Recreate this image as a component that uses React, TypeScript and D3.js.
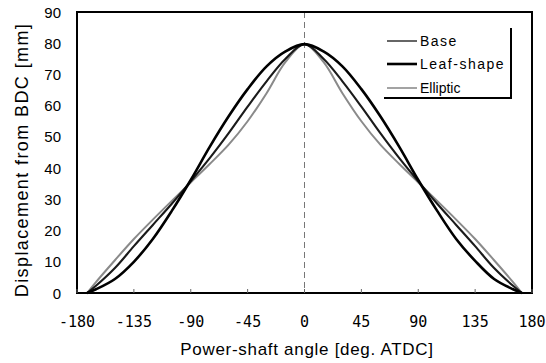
import React from "react";
import * as d3 from "d3";

const angles = [-172, -165, -150, -135, -120, -105, -90, -75, -60, -45, -30, -15, 0, 15, 30, 45, 60, 75, 90, 105, 120, 135, 150, 165, 172];
const leafValues = [0, 1.2, 4.5, 10, 17.3, 26.3, 36.2, 46.8, 56.6, 65.3, 72.6, 77.4, 79.7, 77.4, 72.6, 65.3, 56.6, 46.8, 36.2, 26.3, 17.3, 10.3, 4.5, 1.2, 0];
const baseValues = [0, 2.3, 8, 15, 21.8, 28.6, 35.8, 43.2, 51.2, 59.7, 67.8, 75, 79.7, 75, 67.8, 59.7, 51.2, 43.2, 35.8, 28.6, 21.8, 15, 8, 2.3, 0];
const ellipticValues = [0, 3.5, 10.5, 17.3, 23.5, 29.5, 35.4, 41.3, 47.5, 55, 64, 74, 79.7, 74, 64, 55, 47.5, 41.3, 35.4, 29.5, 23.5, 17.3, 10.5, 3.5, 0];
const xTicks = [-180, -135, -90, -45, 0, 45, 90, 135, 180];
const yTicks = [0, 10, 20, 30, 40, 50, 60, 70, 80, 90];
const seriesNames = ["Base", "Leaf-shape", "Elliptic"];

const W = 546, H = 363;
const L = 77, R = 532, T = 12, B = 293;

export default function App() {
  const x = d3.scaleLinear().domain([-180, 180]).range([L, R]);
  const y = d3.scaleLinear().domain([0, 90]).range([B, T]);
  const line = d3.line<number>()
    .x((_, i) => x(angles[i]))
    .y((d) => y(d))
    .curve(d3.curveCatmullRom.alpha(0.5));
  const series = [
    { name: seriesNames[0], values: baseValues, color: "#1a1a1a", width: 2.1, ls: 1.5 },
    { name: seriesNames[1], values: leafValues, color: "#000", width: 2.6, ls: 1.5 },
    { name: seriesNames[2], values: ellipticValues, color: "#8a8a8a", width: 2, ls: 0 },
  ];
  const legendColors = ["#555", "#000", "#999"];
  const drawOrder = [2, 0, 1];
  const legendY = [41, 64, 88];
  const font = "'Liberation Sans', Arial, sans-serif";
  const mono = "'DejaVu Sans Mono', monospace";
  return (
    <svg width={W} height={H} style={{ position: "absolute", left: 0, top: 0, background: "#fff" }}>
      <rect x={0} y={0} width={W} height={H} fill="#fff" />
      <line x1={x(0)} x2={x(0)} y1={T} y2={B} stroke="#777" strokeWidth={1} strokeDasharray="6,4" />
      {drawOrder.map((k) => (
        <path key={k} d={line(series[k].values) || ""} fill="none" stroke={series[k].color} strokeWidth={series[k].width} strokeLinejoin="round" />
      ))}
      <rect x={L} y={T} width={R - L} height={B - T} fill="none" stroke="#000" strokeWidth={2} />
      {xTicks.map((t) => (
        <g key={t}>
          <line x1={x(t)} x2={x(t)} y1={B} y2={B - 4} stroke="#666" strokeWidth={1} />
          <text x={x(t)} y={327} textAnchor="middle" fontSize={15} fontFamily={mono}>
            {String(t)}
          </text>
        </g>
      ))}
      {yTicks.map((t) => (
        <text key={t} x={61} y={y(t) + 5.5} textAnchor="end" fontSize={15} fontFamily={font}>
          {t}
        </text>
      ))}
      <text x={307} y={355} textAnchor="middle" fontSize={17} fontFamily={font} letterSpacing={0.7}>
        Power-shaft angle [deg. ATDC]
      </text>
      <text transform={`translate(28,160) rotate(-90)`} textAnchor="middle" fontSize={18} fontFamily={font} letterSpacing={1.4}>
        Displacement from BDC [mm]
      </text>
      <rect x={384} y={28} width={127} height={70} fill="#fff" stroke="none" />
      <line x1={511} x2={511} y1={28} y2={98} stroke="#000" strokeWidth={2} />
      <line x1={384} x2={512} y1={98} y2={98} stroke="#000" strokeWidth={2} />
      {series.map((s, i) => (
        <g key={s.name}>
          <line x1={387} x2={417} y1={legendY[i]} y2={legendY[i]} stroke={legendColors[i]} strokeWidth={i === 1 ? 2.6 : 1.8} />
          <text x={420} y={legendY[i] + 5} fontSize={14} fontFamily={font} letterSpacing={s.ls}>{s.name}</text>
        </g>
      ))}
    </svg>
  );
}
